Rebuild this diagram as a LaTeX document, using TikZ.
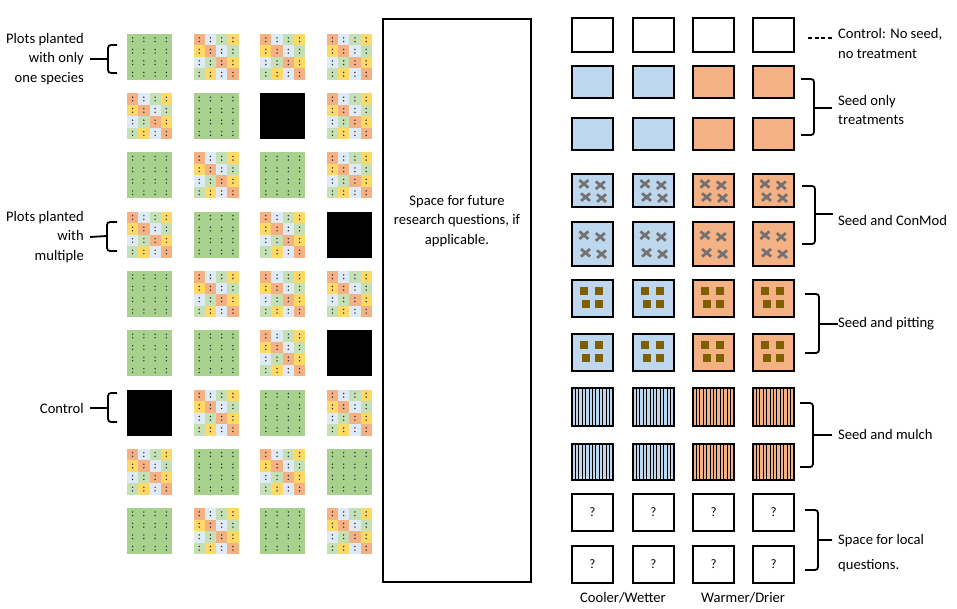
\documentclass[tikz,border=0pt]{standalone}
\usepackage{fontspec}
\setmainfont{Carlito}
\usetikzlibrary{positioning}
\definecolor{monogreen}{HTML}{A9D18E}
\definecolor{mixorange}{HTML}{F4B183}
\definecolor{mixblue}{HTML}{DEEBF7}
\definecolor{mixgreen}{HTML}{C5E0B4}
\definecolor{mixyellow}{HTML}{FFD966}
\definecolor{coolblue}{HTML}{BDD7EE}
\definecolor{warmorange}{HTML}{F4B183}
\definecolor{conmodgrey}{HTML}{767171}
\definecolor{pitbrown}{HTML}{7F6000}
\definecolor{dotdark}{HTML}{2E2A3A}

\tikzset{
  plotbox/.style={draw=black, line width=2.6},
  brace/.style={line width=1.8, rounded corners=3},
  cross/.style={draw=conmodgrey, line width=2.7},
  lbl/.style={font=\fontsize{14.6}{19.5}\selectfont, inner sep=0pt},
}

% seed marks in one sub plot
\newcommand{\seedmark}[2]{\fill[dotdark] (#1,#2-1.8) circle (0.8pt); \fill[dotdark] (#1,#2+1.8) circle (0.8pt);}
% one species plot
\newcommand{\plotG}[2]{%
  \fill[monogreen] (#1,#2) rectangle ++(45,46);
  \foreach \i in {0,...,3} {\foreach \j in {0,...,3} {\seedmark{#1+5.6+11.25*\i}{#2+5.75+11.5*\j}}}
}
% control plot
\newcommand{\plotB}[2]{\fill[black] (#1,#2) rectangle ++(45,46);}
% multiple species plot
\newcommand{\plotM}[2]{%
  \foreach \colrow [count=\j from 0] in {{mixorange,mixblue,mixgreen,mixyellow},{mixyellow,mixorange,mixblue,mixgreen},{mixblue,mixgreen,mixorange,mixyellow},{mixgreen,mixyellow,mixblue,mixorange}} {
    \foreach \cc [count=\i from 0] in \colrow {
      \fill[\cc] (#1+11.25*\i,#2+11.5*\j) rectangle ++(11.25,11.5);
      \seedmark{#1+5.6+11.25*\i}{#2+5.75+11.5*\j}
    }
  }
}

\begin{document}
\begin{tikzpicture}[x=1pt, y=-1pt]
	\useasboundingbox (0,0) rectangle (957,609);

	% draw species plots
	\foreach \plotrow [count=\pr from 0] in {{G,M,M,M},{M,G,B,M},{G,M,G,M},{M,G,M,B},{G,M,M,M},{G,G,M,B},{B,M,G,M},{M,G,M,G},{G,M,G,M}} {
		\foreach \k [count=\pc from 0] in \plotrow {
			\pgfmathsetmacro\px{127+66.6*\pc}
			\pgfmathsetmacro\py{34+59.25*\pr}
			\csname plot\k\endcsname{\px}{\py}
		}
	}

	% draw left labels
	\node[lbl, anchor=east, align=right] (onespecies) at (84,59) {Plots planted\\with only\\one species};
	\node[lbl, anchor=east, align=right] (multispecies) at (84,237) {Plots planted\\with\\multiple};
	\node[lbl, anchor=east] (controlplots) at (84,408) {Control};
	\draw[brace] (117,45) -| (108,73) -- (117,73);
	\draw[brace] (108,59) -- ([xshift=6]onespecies.east);
	\draw[brace] (117,222) -| (107,251) -- (117,251);
	\draw[brace] (107,236) -- ([xshift=6]multispecies.east);
	\draw[brace] (117,393) -| (108,422) -- (117,422);
	\draw[brace] (108,408) -- ([xshift=6]controlplots.east);

	% draw future space
	\draw[plotbox] (383,19) rectangle (531,582);
	\node[lbl, align=center] (future) at (457,221) {Space for future\\research questions, if\\applicable.};

	% draw treatment plots
	\foreach \tx/\tc in {572/coolblue,633/coolblue,693/warmorange,753/warmorange} {
		% control
		\draw[plotbox] (\tx,18) rectangle ++(41,34);
		% seed only
		\foreach \ty/\th in {66/32,118/32}
			\draw[plotbox, fill=\tc] (\tx,\ty) rectangle ++(41,\th);
		% seed and conmod
		\foreach \ty/\th in {174/33,222/44} {
			\fill[\tc] (\tx,\ty) rectangle ++(41,\th);
			\foreach \fx/\fy in {0.29/0.3,0.69/0.34,0.33/0.7,0.72/0.73}
				\draw[cross] (\tx+41*\fx-4.5,\ty+\th*\fy-3.8) -- ++(9,7.6) (\tx+41*\fx-4.5,\ty+\th*\fy+3.8) -- ++(9,-7.6);
			\draw[plotbox] (\tx,\ty) rectangle ++(41,\th);
		}
		% seed and pitting
		\foreach \ty/\th in {280/37,334/37} {
			\fill[\tc] (\tx,\ty) rectangle ++(41,\th);
			\foreach \fx/\fy in {0.3/0.29,0.66/0.29,0.33/0.64,0.67/0.65}
				\fill[pitbrown] (\tx+41*\fx-4,\ty+\th*\fy-4) rectangle ++(8,8);
			\draw[plotbox] (\tx,\ty) rectangle ++(41,\th);
		}
		% seed and mulch
		\foreach \ty/\th in {388/38,444/36} {
			\fill[\tc] (\tx,\ty) rectangle ++(41,\th);
			\foreach \s in {1,...,11}
				\draw[line width=0.9] (\tx+41*\s/12,\ty) -- ++(0,\th);
			\draw[plotbox] (\tx,\ty) rectangle ++(41,\th);
		}
		% local questions
		\foreach \ty/\th in {494/37,546/37} {
			\draw[plotbox] (\tx,\ty) rectangle ++(41,\th);
			\node[lbl, font=\fontsize{13}{15}\selectfont] (local-\tx-\ty) at (\tx+20.5,\ty+\th/2) {?};
		}
	}

	% draw right labels
	\node[lbl, anchor=west, align=left] (controlrt) at (838,43.5) {Control: No seed,\\no treatment};
	\draw[line width=1.6, dash pattern=on 4 off 2.5] (808,38) -- ([xshift=-6]controlrt.west |- 0,38);
	\node[lbl, anchor=west, align=left] (seedonly) at (838,110) {Seed only\\treatments};
	\draw[brace] (801,79) -| (814,135) -- (801,135);
	\draw[brace] (814,108) -- ([xshift=-6]seedonly.west |- 0,108);
	\node[lbl, anchor=west] (conmod) at (838,220) {Seed and ConMod};
	\draw[brace] (802,186) -| (815,244) -- (802,244);
	\draw[brace] (815,214) -- ([xshift=-5]conmod.west |- 0,214);
	\node[lbl, anchor=west] (pitting) at (838,324) {Seed and pitting};
	\draw[brace] (805,294) -| (819,353) -- (805,353);
	\draw[brace] (819,324) -- (pitting.west);
	\node[lbl, anchor=west] (mulch) at (838,434) {Seed and mulch};
	\draw[brace] (800,403) -| (813,467) -- (800,467);
	\draw[brace] (813,435) -- ([xshift=-6]mulch.west |- 0,435);
	\node[lbl, anchor=west, align=left] (localq) at (838,553) {Space for local\\[6pt]questions.};
	\draw[brace] (805,510) -| (818,570) -- (805,570);
	\draw[brace] (818,540) -- ([xshift=-6]localq.west |- 0,540);

	% draw climate labels
	\node[lbl] (cooler) at (623,598) {Cooler/Wetter};
	\node[lbl] (warmer) at (743,598) {Warmer/Drier};
\end{tikzpicture}
\end{document}
